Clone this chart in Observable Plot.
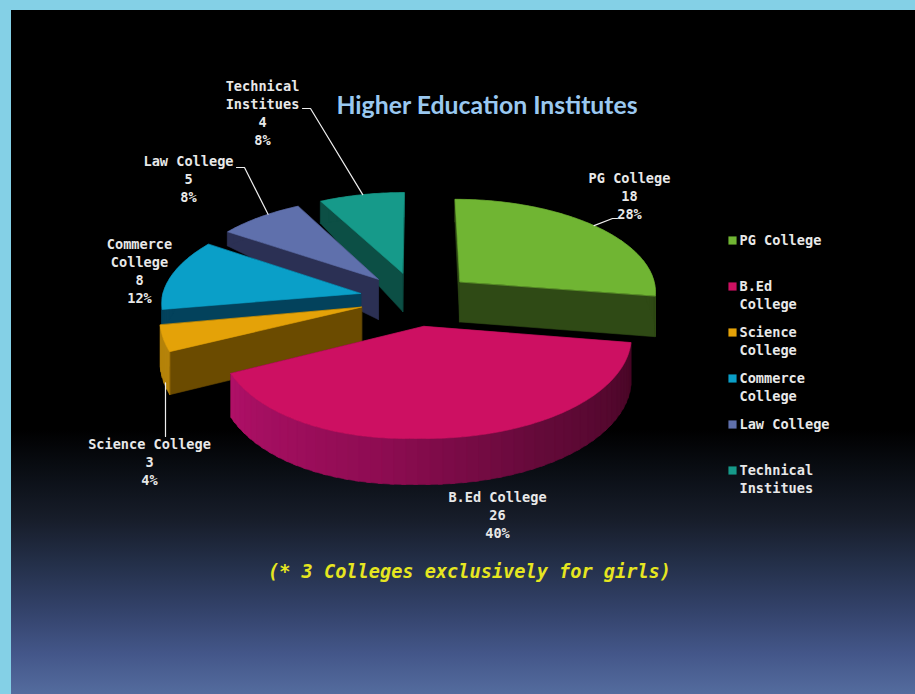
<!doctype html>
<html>
<head>
<meta charset="utf-8">
<script src="https://cdn.jsdelivr.net/npm/d3@7"></script>
<script src="https://cdn.jsdelivr.net/npm/@observablehq/plot@0.6"></script>
<style>
  html,body{margin:0;padding:0;background:#000;}
  #stage{position:relative;width:915px;height:694px;overflow:hidden;background:#84d0e6;}
  #panel{position:absolute;left:11px;top:10px;right:0;bottom:0;
    background:linear-gradient(to bottom,#000 0,#000 420px,#0b0f16 465px,#171d2a 510px,#24304a 555px,#33426a 600px,#44578a 645px,#546c9e 684px);}
  #chart{position:absolute;left:0;top:0;}
  svg{display:block;background:transparent !important;}
</style>
</head>
<body>
<div id="stage"><div id="panel"></div><div id="chart"></div></div>
<script>
// ---- data ----
const categories = ["PG College","B.Ed College","Science College","Commerce College","Law College","Technical Institues"];
const legendLabels = ["PG College","B.Ed\nCollege","Science\nCollege","Commerce\nCollege","Law College","Technical\nInstitues"];
const dataLabels = ["PG College","B.Ed College","Science College","Commerce\nCollege","Law College","Technical\nInstitues"];
const counts = [18,26,3,8,5,4];
const percents = [28,40,4,12,8,8];
const topColors = ["#70b533","#cd1062","#e4a208","#0a9fc8","#5f70ac","#169a8a"];
const sideColors = ["#2f4a15","#5a0a33","#6b4b00","#03425c","#2b3054","#0c4f45"];
const titleText = "Higher Education Institutes";
const noteText = "(* 3 Colleges exclusively for girls)";

// ---- exploded pie geometry, projected with a simple camera ----
const cx = 416, cy = 295, R = 198, A = 93.2, persp = 0.125, explode = 0.29, apexDrop = 3, skewY = 8, skewX = 5;
const thick = d3.scaleLinear().domain([-1.1,-0.75,-0.25,1.3]).range([21,14,40,46]);
const rad = d => d*Math.PI/180;
const arcs = (() => { let a = 0; return percents.map(p => { const s = a, e = a + p*3.6; a = e; return {s, e, m:(s+e)/2}; }); })();
function project(u, v, down=false, extra=0){
  const k = 1/(1 - persp*v);
  const lean = Math.max(0,-u)*Math.max(0,v);
  return {x: cx + R*u*k + skewX*lean, y: cy + A*v*k + skewY*lean + extra + (down ? thick(v) : 0)};
}
const apexUV = i => ({u: explode*Math.sin(rad(arcs[i].m)), v: -explode*Math.cos(rad(arcs[i].m))});
const rimUV = (i, deg) => { const a = apexUV(i); return {u: a.u + Math.sin(rad(deg)), v: a.v - Math.cos(rad(deg))}; };
const rimPoint = (i, deg, down=false) => { const p = rimUV(i, deg); return project(p.u, p.v, down); };
const apexPoint = (i, down=false) => { const p = apexUV(i); return project(p.u, p.v, down, apexDrop); };

const rimStops = d3.scaleLinear().domain([101,150,190,244]).range(["#470625","#650a3a","#8e0c52","#b01068"]).interpolate(d3.interpolateRgb);
const drawOrder = [5,4,3,2,0,1];
const polys = [];
let pid = 0;
function addPoly(points, fill){
  const id = pid++;
  points.forEach(p => polys.push({x:p.x, y:p.y, id, fill}));
}
for (const i of drawOrder){
  const {s, e} = arcs[i];
  const side = sideColors[i];
  const faces = [
    {v: -Math.cos(rad(e)), pts:[apexPoint(i),rimPoint(i,e),rimPoint(i,e,true),apexPoint(i,true)], fill:side},
    {v: -Math.cos(rad(s)), pts:[apexPoint(i),rimPoint(i,s),rimPoint(i,s,true),apexPoint(i,true)], fill:side}
  ].sort((a,b)=>a.v-b.v);
  addPoly(faces[0].pts, faces[0].fill);
  addPoly(faces[1].pts, faces[1].fill);
  const step = 3;
  for (let d = s; d < e; d += step){
    const d2 = Math.min(e, d + step + 1);
    const fill = i === 1 ? rimStops(d) : (i === 2 ? "#b5830a" : side);
    addPoly([rimPoint(i,d),rimPoint(i,d2),rimPoint(i,d2,true),rimPoint(i,d,true)], fill);
  }
  const topPts = [apexPoint(i)];
  for (let d = s; d <= e + 0.001; d += 1) topPts.push(rimPoint(i, Math.min(d,e)));
  topPts.push(rimPoint(i,e));
  addPoly(topPts, topColors[i]);
}

// ---- labels and leaders (annotation layout) ----
const labelAt = [[629,170],[497,489],[149,436],[139,236],[188,153],[262,78]];
const sliceLabels = categories.map((c,i)=>({
  text: `${dataLabels[i]}\n${counts[i]}\n${percents[i]}%`, x: labelAt[i][0], y: labelAt[i][1]
}));
const leaders = [
  {i:0, elbows:[[617,218],[612,218]], deg:50, down:false},
  {i:2, elbows:[[165,436]], deg:251, down:true},
  {i:4, elbows:[[236,167],[244,167]], deg:320, down:false},
  {i:5, elbows:[[302,108],[310,108]], deg:346, down:false}
].flatMap((l,n)=>{
  const end = rimPoint(l.i,l.deg,l.down);
  return [...l.elbows.map(([x,y])=>({x,y,n})),{x:l.elbows.length===1?l.elbows[0][0]:end.x,y:end.y,n}];
});
const legendRows = categories.map((c,i)=>({i, label:legendLabels[i], color:topColors[i], y:240 + 46*i}));

const mono = "'DejaVu Sans Mono','Liberation Mono',monospace";
const labelFont = {fill:"#e8e8e8",fontFamily:mono,fontSize:13.6,fontWeight:700,lineHeight:18/13.6};
const plot = Plot.plot({
  width:915, height:694, margin:0,
  style:{background:"transparent", overflow:"visible"},
  x:{type:"linear", domain:[0,915], range:[0,915], axis:null},
  y:{type:"linear", domain:[0,694], range:[0,694], axis:null},
  color:{type:"identity"},
  marks:[
    Plot.line(polys,{x:"x",y:"y",z:"id",fill:"fill",stroke:"fill",strokeWidth:0.6,curve:"linear-closed"}),
    Plot.line(leaders,{x:"x",y:"y",z:"n",stroke:"#eeeeee",strokeWidth:1.2}),
    Plot.text(sliceLabels,{x:"x",y:"y",text:"text",lineAnchor:"top",textAnchor:"middle",...labelFont}),
    Plot.text(legendRows,{x:()=>739,y:"y",text:"label",lineAnchor:"middle",textAnchor:"start",...labelFont,dy:-1,
      filter:d=>!d.label.includes("\n")}),
    Plot.text(legendRows,{x:()=>739,y:"y",text:"label",lineAnchor:"top",textAnchor:"start",...labelFont,dy:-8,
      filter:d=>d.label.includes("\n")}),
    Plot.dot(legendRows,{x:()=>732,y:"y",symbol:"square",r:4.6,fill:"color"}),
    Plot.text([titleText],{x:()=>486.5,y:()=>106,text:d=>d,fill:"#9ac8f0",fontFamily:"Lato,'Open Sans',sans-serif",
      fontSize:24.8,fontWeight:700,textAnchor:"middle"}),
    Plot.text([noteText],{x:()=>469,y:()=>572,text:d=>d,fill:"#e6e620",fontFamily:mono,fontSize:18.6,
      fontWeight:700,fontStyle:"italic",textAnchor:"middle"})
  ]
});
document.getElementById("chart").appendChild(plot);
</script>
</body>
</html>
